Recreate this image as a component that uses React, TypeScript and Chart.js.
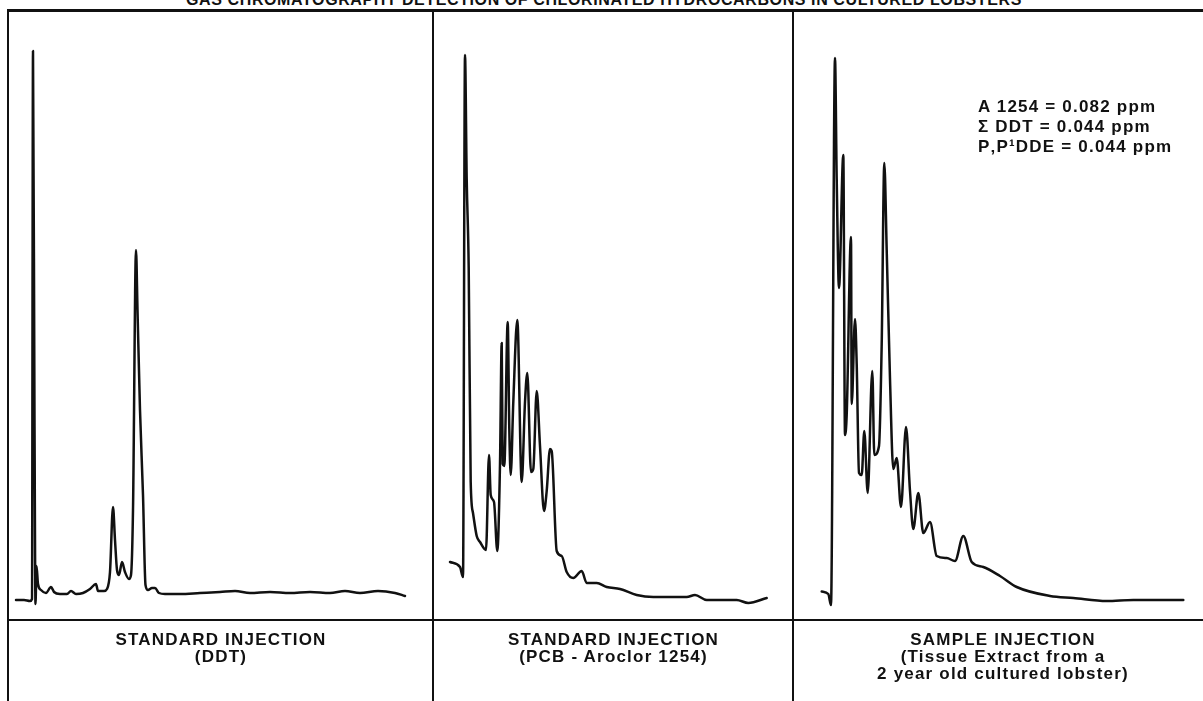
import React, { useEffect, useRef } from "react";
import { Chart, registerables } from "chart.js";

Chart.register(...registerables);

// ---- Data (retention time in arbitrary units, detector response in % of full scale) ----
const chartTitle =
  "GAS CHROMATOGRAPHY DETECTION OF CHLORINATED HYDROCARBONS IN CULTURED LOBSTERS";

const ddtTime = [
  0.7, 1.5, 2.1, 2.3, 2.4, 2.55, 2.65, 2.75, 2.9, 3.2, 3.7, 4.2, 4.5, 5.1, 5.8, 6.2, 6.7, 7.4,
  8.1, 8.7, 8.9, 9.5, 9.8, 10.1, 10.4, 10.6, 10.8, 11.0, 11.3, 11.6, 12.0, 12.2, 12.4, 12.7,
  12.85, 13.1, 13.4, 13.65, 13.9, 14.3, 14.6, 15.0, 15.6, 17.1, 19.1, 21.1, 22.6, 24.1, 26.1,
  28.1, 30.1, 32.1, 33.6, 35.1, 36.9, 38.6, 39.6,
];
const ddtResponse = [
  2.0, 2.0, 1.9, 2.1, 56.9, 20.0, 1.6, 5.4, 3.6, 3.0, 2.7, 3.3, 2.8, 2.6, 2.6, 2.9, 2.6, 2.7,
  3.1, 3.6, 2.9, 2.9, 3.1, 4.8, 11.3, 8.0, 5.0, 4.5, 5.8, 4.8, 4.1, 4.5, 11.0, 37.0, 31.0,
  21.0, 12.5, 3.5, 3.0, 3.2, 3.2, 2.7, 2.6, 2.6, 2.7, 2.8, 2.9, 2.7, 2.8, 2.7, 2.8, 2.7, 2.9,
  2.7, 2.9, 2.7, 2.4,
];

const pcbTime = [
  1.6, 2.6, 2.9, 3.1, 3.27, 3.47, 3.67, 3.9, 4.27, 4.6, 5.2, 5.5, 5.67, 6.0, 6.33, 6.6, 6.77,
  6.87, 7.03, 7.37, 7.53, 7.67, 7.93, 8.33, 8.77, 9.1, 9.33, 9.7, 9.93, 10.27, 10.6, 11.0,
  11.27, 11.6, 11.77, 12.27, 12.77, 13.27, 13.93, 14.77, 15.27, 16.27, 17.27, 18.6, 20.27,
  21.93, 25.27, 26.1, 27.27, 30.27, 31.43, 33.27,
];
const pcbResponse = [
  5.8, 5.3, 4.3, 56.5, 44.1, 35.2, 13.8, 10.7, 8.4, 7.8, 7.0, 16.5, 12.5, 11.8, 6.9, 15.6, 27.7,
  15.6, 15.4, 29.8, 19.1, 14.5, 21.8, 30.0, 13.8, 21.8, 24.7, 14.8, 15.1, 22.9, 17.4, 10.9,
  12.9, 17.1, 16.9, 6.9, 6.4, 4.8, 4.2, 4.9, 3.7, 3.7, 3.3, 3.1, 2.5, 2.3, 2.3, 2.5, 2.0, 2.0,
  1.7, 2.2,
];

const sampleTime = [
  2.77, 3.43, 3.7, 4.1, 4.27, 4.5, 4.93, 5.1, 5.27, 5.7, 5.77, 6.1, 6.27, 6.5, 6.77, 7.03, 7.37,
  7.83, 8.03, 8.5, 8.77, 9.03, 9.27, 9.6, 9.93, 10.27, 10.7, 11.2, 11.6, 11.93, 12.43, 12.93,
  13.6, 14.27, 15.27, 16.1, 16.93, 17.77, 18.93, 20.6, 22.27, 25.6, 27.93, 31.27, 33.93, 38.93,
];
const sampleResponse = [
  2.85, 2.6, 1.5, 56.2, 44.1, 33.2, 46.5, 18.5, 20.5, 38.3, 21.6, 30.1, 25.6, 14.7, 14.5, 18.9,
  12.7, 24.9, 16.5, 17.4, 27.6, 45.7, 37.0, 24.1, 15.1, 16.2, 11.3, 19.3, 12.9, 9.1, 12.7, 8.7,
  9.8, 6.4, 6.2, 5.9, 8.4, 5.8, 5.3, 4.4, 3.3, 2.4, 2.2, 1.9, 2.0, 2.0,
];

const panelCaptions = [
  ["STANDARD INJECTION", "(DDT)"],
  ["STANDARD INJECTION", "(PCB - Aroclor 1254)"],
  ["SAMPLE INJECTION", "(Tissue Extract from a", "2 year old cultured lobster)"],
];

const sampleResults = ["A 1254 = 0.082 ppm", "\u03A3 DDT = 0.044 ppm", "P\u201AP\u00B9DDE = 0.044 ppm"];

// ---- Layout ----
const W = 1203;
const H = 701;
const TOP = 12;
const DIVIDER_Y = 620;
const PANEL_LEFTS = [9, 434, 794];
const PANEL_RIGHTS = [433, 793, 1203];
const Y_MAX = (DIVIDER_Y - TOP) / 10;
const FONT = '"Liberation Sans", Arial, Helvetica, sans-serif';

type TraceProps = { time: number[]; response: number[]; width: number; height: number };

function Trace({ time, response, width, height }: TraceProps) {
  const ref = useRef<HTMLCanvasElement | null>(null);
  useEffect(() => {
    if (!ref.current) return;
    const chart = new Chart(ref.current, {
      type: "line",
      data: {
        datasets: [
          {
            data: time.map((t, i) => ({ x: t, y: response[i] })),
            borderColor: "#111",
            borderWidth: 2.5,
            pointRadius: 0,
            fill: false,
            cubicInterpolationMode: "monotone",
            borderJoinStyle: "round",
            borderCapStyle: "round",
          },
        ],
      },
      options: {
        animation: false,
        responsive: false,
        devicePixelRatio: 1,
        layout: { padding: 0 },
        plugins: { legend: { display: false }, tooltip: { enabled: false }, title: { display: false } },
        scales: {
          x: { type: "linear", display: false, min: 0, max: width / 10 },
          y: { type: "linear", display: false, min: 0, max: Y_MAX },
        },
      },
    });
    return () => chart.destroy();
  }, [time, response, width, height]);
  return <canvas ref={ref} width={width} height={height} style={{ display: "block", width, height }} />;
}

const traces = [
  { time: ddtTime, response: ddtResponse },
  { time: pcbTime, response: pcbResponse },
  { time: sampleTime, response: sampleResponse },
];

export default function App() {
  const line = (style: React.CSSProperties) => (
    <div style={{ position: "absolute", background: "#111", ...style }} />
  );
  return (
    <div
      style={{
        position: "fixed",
        left: 0,
        top: 0,
        width: W,
        height: H,
        background: "#fff",
        overflow: "hidden",
        fontFamily: FONT,
        color: "#111",
      }}
    >
      <div
        style={{
          position: "absolute",
          top: -8,
          left: 0,
          width: 1208,
          textAlign: "center",
          fontWeight: 700,
          fontSize: 16,
          lineHeight: "16px",
          letterSpacing: 0.6,
          whiteSpace: "nowrap",
        }}
      >
        {chartTitle}
      </div>

      {traces.map((tr, i) => (
        <div
          key={i}
          style={{
            position: "absolute",
            left: PANEL_LEFTS[i],
            top: TOP,
            width: PANEL_RIGHTS[i] - PANEL_LEFTS[i],
            height: DIVIDER_Y - TOP,
          }}
        >
          <Trace
            time={tr.time}
            response={tr.response}
            width={PANEL_RIGHTS[i] - PANEL_LEFTS[i]}
            height={DIVIDER_Y - TOP}
          />
        </div>
      ))}

      {line({ left: 7, top: 9, width: W - 7, height: 3 })}
      {line({ left: 7, top: 9, width: 2, height: H })}
      {line({ left: 432, top: 9, width: 2, height: H })}
      {line({ left: 792, top: 9, width: 2, height: H })}
      {line({ left: 7, top: 619, width: W - 7, height: 2 })}

      {panelCaptions.map((cap, i) => (
        <div
          key={i}
          style={{
            position: "absolute",
            left: PANEL_LEFTS[i],
            width: (i === 2 ? 1212 : PANEL_RIGHTS[i]) - PANEL_LEFTS[i],
            top: 631,
            textAlign: "center",
            fontWeight: 700,
            fontSize: 17,
            lineHeight: "17px",
            letterSpacing: 1.2,
          }}
        >
          {cap.map((c, j) => (
            <div key={j}>{c}</div>
          ))}
        </div>
      ))}

      <div
        style={{
          position: "absolute",
          left: 978,
          top: 97,
          fontWeight: 700,
          fontSize: 17,
          lineHeight: "20px",
          letterSpacing: 1.2,
          whiteSpace: "nowrap",
        }}
      >
        {sampleResults.map((s, j) => (
          <div key={j}>{s}</div>
        ))}
      </div>
    </div>
  );
}
